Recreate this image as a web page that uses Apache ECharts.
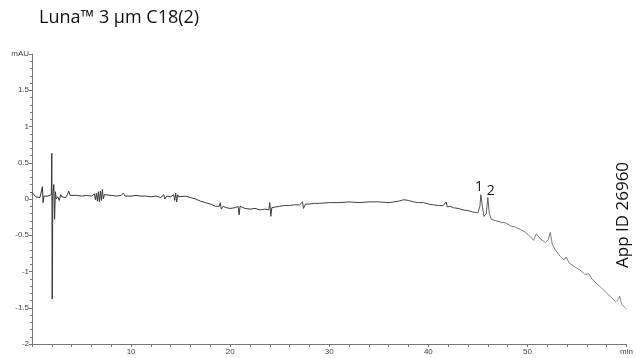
<!DOCTYPE html>
<html>
<head>
<meta charset="utf-8">
<script src="https://cdn.jsdelivr.net/npm/echarts@6/dist/echarts.min.js"></script>
<style>html,body{margin:0;padding:0;background:#fff}#c{width:636px;height:358px}</style>
</head>
<body>
<div id="c"></div>
<script>
const titleText = 'Luna™ 3 µm C18(2)';
const appId = 'App ID 26960';
const xUnit = 'min';
const yUnit = 'mAU';
const peakLabels = ['1', '2'];
const peakTimes = [45.3, 46.0];
const peakValues = [0.06, 0.02];

const retentionTime = [
 0.0,0.2,0.4,0.6,0.8,1.0,1.05,1.12,1.2,1.4,1.6,1.8,1.95,2.0,2.04,2.1,2.2,2.28,2.36,2.45,
 2.6,2.75,2.9,3.0,3.2,3.4,3.6,3.7,3.85,4.0,4.5,5.0,5.5,6.0,6.3,6.4,6.5,6.6,6.7,6.8,
 6.9,7.0,7.1,7.2,7.3,7.5,8.0,8.5,9.0,9.2,9.4,10,10.5,11,11.5,12,12.5,13,13.3,13.4,
 13.6,14.0,14.3,14.4,14.5,14.6,14.7,14.8,15,15.5,16,16.5,17,17.5,18,18.5,18.9,19.0,19.1,19.3,
 19.6,20,20.5,20.8,20.9,21.0,21.5,22,22.5,23,23.5,23.9,24.0,24.1,24.2,24.6,25,25.5,26,26.5,
 27,27.3,27.4,27.6,28,28.5,29,30,31,32,33,34,35,36,37,37.5,38,38.5,39,39.5,
 40,40.5,41,41.5,41.8,41.9,42.2,42.5,43,43.5,44,44.5,45,45.2,45.3,45.45,45.6,45.85,46.0,46.15,
 46.35,46.8,47.3,47.8,48.3,48.8,49.3,49.8,50.3,50.6,50.9,51.3,51.8,52.1,52.3,52.5,52.8,53.3,53.7,53.9,
 54.2,54.7,55.3,55.8,56.2,56.5,57,57.5,58,58.5,58.9,59.2,59.3,59.5,60
];
const absorbance = [
 0.09,0.06,0.03,0.04,0.02,0.03,0.17,-0.05,0.04,0.02,0.04,0.03,0.06,0.63,-1.38,0.05,0.2,-0.28,0.1,0.0,
 0.03,-0.02,0.06,0.03,0.05,0.02,0.07,0.11,0.05,0.04,0.05,0.04,0.05,0.04,0.07,-0.01,0.08,-0.03,0.1,-0.04,
 0.11,-0.02,0.13,0.0,0.06,0.04,0.05,0.04,0.05,0.08,0.04,0.04,0.05,0.04,0.04,0.03,0.04,0.02,0.06,0.0,
 0.04,0.03,0.06,-0.02,0.08,-0.04,0.06,0.03,0.04,0.04,0.02,0.0,-0.03,-0.05,-0.07,-0.1,-0.1,-0.05,-0.14,-0.1,
 -0.12,-0.13,-0.12,-0.1,-0.22,-0.1,-0.13,-0.14,-0.13,-0.15,-0.14,-0.15,-0.05,-0.24,-0.12,-0.11,-0.1,-0.09,-0.09,-0.08,
 -0.08,-0.04,-0.13,-0.07,-0.07,-0.06,-0.06,-0.05,-0.05,-0.04,-0.05,-0.04,-0.04,-0.05,-0.03,-0.01,-0.02,-0.04,-0.05,-0.05,
 -0.07,-0.08,-0.09,-0.09,-0.04,-0.11,-0.1,-0.12,-0.13,-0.15,-0.16,-0.18,-0.19,-0.1,0.06,-0.1,-0.24,-0.2,0.02,-0.2,
 -0.28,-0.3,-0.32,-0.33,-0.37,-0.39,-0.42,-0.46,-0.52,-0.57,-0.48,-0.55,-0.6,-0.56,-0.46,-0.62,-0.7,-0.79,-0.84,-0.8,
 -0.88,-0.93,-0.98,-1.04,-1.03,-1.1,-1.17,-1.23,-1.3,-1.36,-1.42,-1.38,-1.34,-1.45,-1.52
];

const trace = retentionTime.map((t, i) => [t, absorbance[i]]);
const chart = echarts.init(document.getElementById('c'), null, {renderer: 'canvas'});
const axisColor = '#777';
const labelStyle = {fontFamily: 'Liberation Sans', fontSize: 8, color: '#444'};

chart.setOption({
  animation: false,
  backgroundColor: '#fff',
  grid: {left: 32, right: 2, top: 54, bottom: 14},
  graphic: [
    {type: 'text', left: 39, top: 9, style: {text: titleText, font: '18px "Open Sans"', fill: '#111'}},
    {type: 'text', x: 615, y: 268, rotation: Math.PI / 2, style: {text: appId, font: '17px "Open Sans"', fill: '#111'}}
  ],
  xAxis: {
    type: 'value', min: 0, max: 60, interval: 2,
    axisLine: {onZero: false, lineStyle: {color: axisColor, width: 1}},
    axisTick: {length: 3, lineStyle: {color: axisColor}},
    splitLine: {show: false},
    axisLabel: Object.assign({margin: 4, showMinLabel: true, showMaxLabel: true,
      formatter: v => v === 60 ? xUnit : (v % 10 === 0 && v > 0 ? String(v) : '')}, labelStyle)
  },
  yAxis: {
    type: 'value', min: -2, max: 2, interval: 0.5,
    axisLine: {show: true, onZero: false, lineStyle: {color: axisColor, width: 1}},
    axisTick: {show: true, length: 3, lineStyle: {color: axisColor}},
    minorTick: {show: true, splitNumber: 5, length: 2, lineStyle: {color: axisColor}},
    splitLine: {show: false},
    axisLabel: Object.assign({margin: 3, showMinLabel: true, showMaxLabel: true,
      formatter: v => v === 2 ? yUnit : String(v)}, labelStyle)
  },
  series: [{
    type: 'line',
    data: trace,
    symbol: 'none',
    smooth: false,
    lineStyle: {
      width: 1,
      color: new echarts.graphic.LinearGradient(0, 0, 1, 0, [
        {offset: 0, color: '#333'},
        {offset: 0.72, color: '#444'},
        {offset: 0.8, color: '#777'},
        {offset: 1, color: '#8a8a8a'}
      ])
    },
    markPoint: {
      symbol: 'circle', symbolSize: 0,
      data: peakLabels.map((l, i) => ({
        coord: [peakTimes[i], peakValues[i]], value: l,
        label: {show: true, position: 'top', distance: 1, offset: [i === 0 ? -2 : 3, i === 0 ? 0 : 1],
          formatter: l, fontFamily: 'Open Sans', fontSize: 14, color: '#111'}
      }))
    }
  }]
});
</script>
</body>
</html>
